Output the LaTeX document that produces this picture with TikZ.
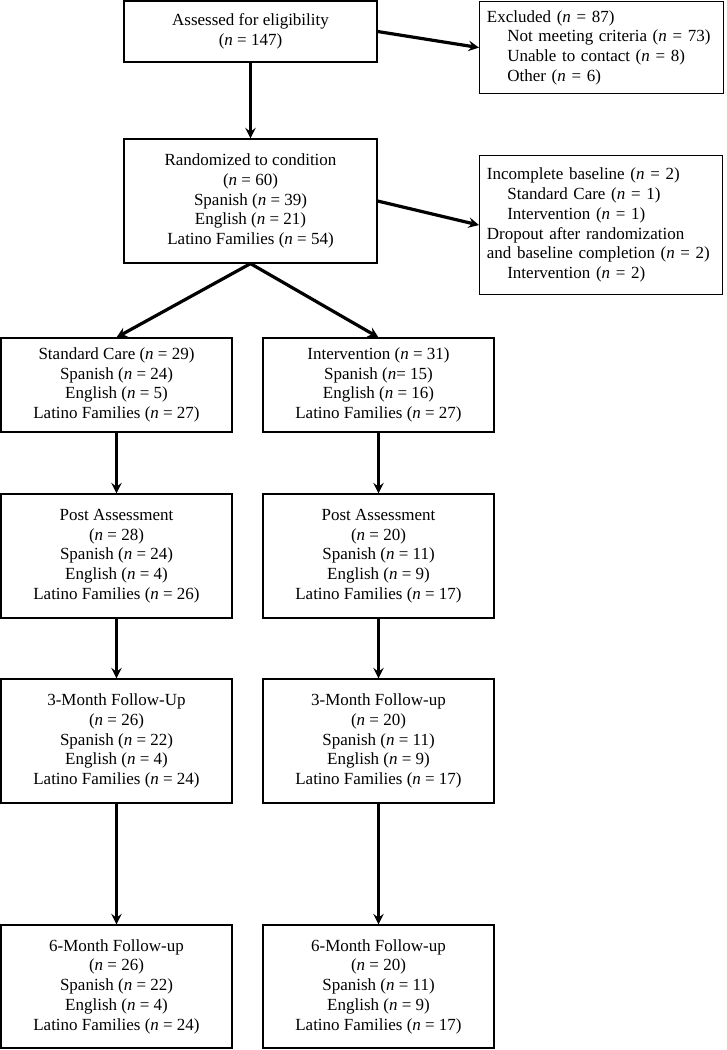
\documentclass[tikz,border=0pt]{standalone}
\usepackage{fontspec}
\setmainfont{Liberation Serif}
\usetikzlibrary{positioning}
\usetikzlibrary{shapes.geometric, arrows}
\tikzstyle{arrow} = [line width=2.4pt,->,>=stealth]
\tikzstyle{box} = [draw,line width=0.9pt,align=center,inner sep=0pt,font=\fontsize{12.75pt}{14.8pt}\selectfont]
\tikzstyle{listbox} = [box,align=left,inner xsep=5.5pt,anchor=north west]
\newcommand{\nn}{\textit{n}}

\begin{document}
\begin{tikzpicture}[x=0.75pt,y=-0.75pt]
\useasboundingbox (0,0) rectangle (727,1050);

%Nodes
\node (assess) [box,minimum width=189.75pt,minimum height=45.75pt] at (250.5,31.5) {Assessed for eligibility\\(\nn{} = 147)};
\node (excl) [listbox,text width=172pt,minimum height=69pt] at (479,1) {Excluded (\nn{} = 87)\\\mbox{\hspace*{1.2em}Not meeting criteria (\nn{} = 73)}\\\mbox{\hspace*{1.2em}Unable to contact (\nn{} = 8)}\\\hspace*{1.2em}Other (\nn{} = 6)};
\node (rand) [box,minimum width=189.75pt,minimum height=93pt] at (250.5,201) {Randomized to condition\\(\nn{} = 60)\\Spanish (\nn{} = 39)\\English (\nn{} = 21)\\Latino Families (\nn{} = 54)};
\node (incompl) [listbox,text width=171.25pt,minimum height=104.25pt] at (479,155) {Incomplete baseline (\nn{} = 2)\\\hspace*{1.2em}Standard Care (\nn{} = 1)\\\hspace*{1.2em}Intervention (\nn{} = 1)\\Dropout after randomization\\\mbox{and baseline completion (\nn{} = 2)}\\\hspace*{1.2em}Intervention (\nn{} = 2)};

\node (stdcare) [box,minimum width=173.25pt,minimum height=70.5pt] at (116.5,385) {Standard Care (\nn{} = 29)\\Spanish (\nn{} = 24)\\English (\nn{} = 5)\\Latino Families (\nn{} = 27)};
\node (interv) [box,minimum width=173.25pt,minimum height=70.5pt] at (378.5,385) {Intervention (\nn{} = 31)\\Spanish (\nn{}= 15)\\English (\nn{} = 16)\\Latino Families (\nn{} = 27)};

\node (postSC) [box,minimum width=173.25pt,minimum height=93pt] at (116.5,556) {Post Assessment\\(\nn{} = 28)\\Spanish (\nn{} = 24)\\English (\nn{} = 4)\\Latino Families (\nn{} = 26)};
\node (postIN) [box,minimum width=173.25pt,minimum height=93pt] at (378.5,556) {Post Assessment\\(\nn{} = 20)\\Spanish (\nn{} = 11)\\English (\nn{} = 9)\\Latino Families (\nn{} = 17)};

\node (threeSC) [box,minimum width=173.25pt,minimum height=93pt] at (116.5,741) {3-Month Follow-Up\\(\nn{} = 26)\\Spanish (\nn{} = 22)\\English (\nn{} = 4)\\Latino Families (\nn{} = 24)};
\node (threeIN) [box,minimum width=173.25pt,minimum height=93pt] at (378.5,741) {3-Month Follow-up\\(\nn{} = 20)\\Spanish (\nn{} = 11)\\English (\nn{} = 9)\\Latino Families (\nn{} = 17)};

\node (sixSC) [box,minimum width=173.25pt,minimum height=92.25pt] at (116.5,986.5) {6-Month Follow-up\\(\nn{} = 26)\\Spanish (\nn{} = 22)\\English (\nn{} = 4)\\Latino Families (\nn{} = 24)};
\node (sixIN) [box,minimum width=173.25pt,minimum height=92.25pt] at (378.5,986.5) {6-Month Follow-up\\(\nn{} = 20)\\Spanish (\nn{} = 11)\\English (\nn{} = 9)\\Latino Families (\nn{} = 17)};

%Lines
\draw[arrow] (assess.south) -- (rand.north);
\draw[arrow] (assess.east) -- (excl.west);
\draw[arrow] (rand.east) -- (incompl.west);
\draw[arrow] (rand.south) -- (stdcare.north);
\draw[arrow] (rand.south) -- (interv.north);
\draw[arrow] (stdcare.south) -- (postSC.north);
\draw[arrow] (interv.south) -- (postIN.north);
\draw[arrow] (postSC.south) -- (threeSC.north);
\draw[arrow] (postIN.south) -- (threeIN.north);
\draw[arrow] (threeSC.south) -- (sixSC.north);
\draw[arrow] (threeIN.south) -- (sixIN.north);
\end{tikzpicture}
\end{document}
